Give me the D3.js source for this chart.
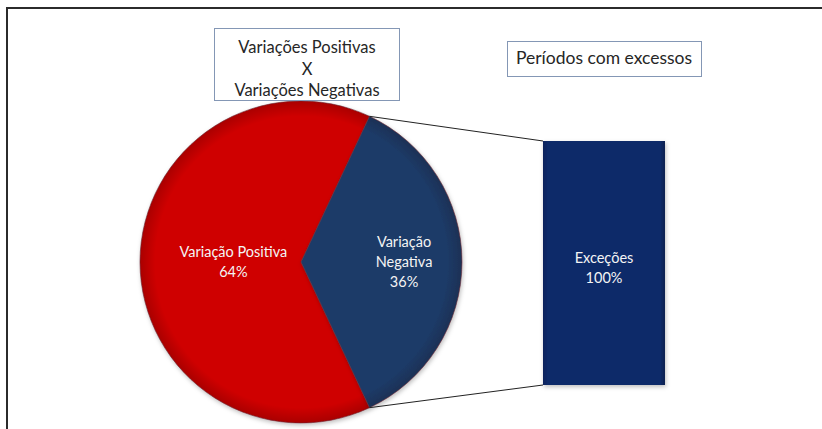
<!DOCTYPE html>
<html lang="pt">
<head>
    <meta charset="UTF-8">
    <title>Variações Positivas X Variações Negativas</title>
    <script src="https://d3js.org/d3.v7.min.js"></script>
    <style>
        body {
            margin: 0;
            background: #ffffff;
        }
        svg text {
            font-family: Lato, "Open Sans", sans-serif;
        }
        .box-text {
            fill: #262626;
            font-size: 16.5px;
        }
        .slice-label {
            fill: #f4f4f4;
            font-size: 14.5px;
        }
    </style>
</head>
<body>
    <script>

        // data
        var categories = ["Variação Positiva", "Variação Negativa"];
        var values = [64, 36];
        var barCategories = ["Exceções"];
        var barValues = [100];
        var titleLines = ["Variações Positivas", "X", "Variações Negativas"];
        var subTitle = "Períodos com excessos";

        var w = 822;
        var h = 429;

        var svg = d3.select("body")
            .append("svg")
            .attr("width", w)
            .attr("height", h);

        var defs = svg.append("defs");

        // soft bevel look for the pie slices
        var sliceColors = ["#cf0000", "#1f3b68"];
        sliceColors.forEach(function (c, i) {
            var g = defs.append("radialGradient")
                .attr("id", "slice" + i)
                .attr("gradientUnits", "userSpaceOnUse")
                .attr("cx", 0).attr("cy", 0).attr("r", 162);
            g.append("stop").attr("offset", "0%").attr("stop-color", c);
            g.append("stop").attr("offset", "90%").attr("stop-color", c);
            g.append("stop").attr("offset", "100%").attr("stop-color", d3.color(c).darker(0.6));
        });

        var barGrad = defs.append("linearGradient")
            .attr("id", "barGrad")
            .attr("x1", 0).attr("y1", 0).attr("x2", 1).attr("y2", 0);
        barGrad.append("stop").attr("offset", "0%").attr("stop-color", "#0a235c");
        barGrad.append("stop").attr("offset", "4%").attr("stop-color", "#0c2a69");
        barGrad.append("stop").attr("offset", "96%").attr("stop-color", "#0c2a69");
        barGrad.append("stop").attr("offset", "100%").attr("stop-color", "#08204f");

        var shadow = defs.append("filter").attr("id", "shadow")
            .attr("x", "-10%").attr("y", "-10%").attr("width", "130%").attr("height", "130%");
        shadow.append("feDropShadow")
            .attr("dx", 1).attr("dy", 2).attr("stdDeviation", 2)
            .attr("flood-color", "#000").attr("flood-opacity", 0.25);

        // outer frame
        svg.append("path")
            .attr("d", "M7," + h + " L7,8 L" + w + ",8")
            .attr("fill", "none")
            .attr("stroke", "#2b2b2b")
            .attr("stroke-width", 2);

        // pie
        var cx = 301, cy = 262, radius = 161;
        var total = d3.sum(values);
        var negSpan = values[1] / total * 2 * Math.PI;
        var start = Math.PI / 2 + negSpan / 2;

        var pie = d3.pie()
            .sort(null)
            .startAngle(start)
            .endAngle(start + 2 * Math.PI);

        var arcs = pie(values);

        var arc = d3.arc()
            .innerRadius(0)
            .outerRadius(radius);

        var pieG = svg.append("g")
            .attr("transform", "translate(" + cx + "," + cy + ")");

        pieG.selectAll("path")
            .data(arcs)
            .enter()
            .append("path")
            .attr("d", arc)
            .attr("fill", function (d, i) { return "url(#slice" + i + ")"; })
            .attr("stroke", "#6b2a35")
            .attr("stroke-width", 0.6)
            .attr("filter", "url(#shadow)");

        // labels sit at different depths, as in the original
        var labelDepth = [0.42, 0.64];
        var labelLines = [["Variação Positiva", "64%"], ["Variação", "Negativa", "36%"]];
        arcs.forEach(function (d, i) {
            var la = d3.arc().innerRadius(radius * labelDepth[i]).outerRadius(radius * labelDepth[i]);
            var c = la.centroid(d);
            var lines = labelLines[i].slice();
            lines[lines.length - 1] = d3.format(".0f")(values[i]) + "%";
            var t = pieG.append("text")
                .attr("class", "slice-label")
                .attr("text-anchor", "middle")
                .attr("x", c[0])
                .attr("y", c[1] - (lines.length - 1) * 10 + 5);
            lines.forEach(function (s, k) {
                t.append("tspan")
                    .attr("x", c[0])
                    .attr("dy", k === 0 ? 0 : 20)
                    .text(s);
            });
        });

        // bar of the negative slice
        var xScale = d3.scaleBand()
            .domain(barCategories)
            .range([543, 665]);

        var yScale = d3.scaleLinear()
            .domain([0, 100])
            .range([385, 141]);

        // connector lines from slice edges to bar corners
        var neg = arcs[1];
        var p1 = [cx + radius * Math.sin(neg.startAngle), cy - radius * Math.cos(neg.startAngle)];
        var p2 = [cx + radius * Math.sin(neg.endAngle), cy - radius * Math.cos(neg.endAngle)];
        var barLeft = xScale(barCategories[0]);
        svg.append("line")
            .attr("x1", p1[0]).attr("y1", p1[1])
            .attr("x2", barLeft).attr("y2", yScale(barValues[0]))
            .attr("stroke", "#222").attr("stroke-width", 1);
        svg.append("line")
            .attr("x1", p2[0]).attr("y1", p2[1])
            .attr("x2", barLeft).attr("y2", yScale(0))
            .attr("stroke", "#222").attr("stroke-width", 1);

        svg.selectAll(".bar")
            .data(barValues)
            .enter()
            .append("rect")
            .attr("class", "bar")
            .attr("x", function (d, i) { return xScale(barCategories[i]); })
            .attr("y", function (d) { return yScale(d); })
            .attr("width", xScale.bandwidth())
            .attr("height", function (d) { return yScale(0) - yScale(d); })
            .attr("fill", "url(#barGrad)")
            .attr("filter", "url(#shadow)");

        svg.selectAll(".bar-label")
            .data(barValues)
            .enter()
            .append("text")
            .attr("class", "slice-label")
            .attr("text-anchor", "middle")
            .attr("x", function (d, i) { return xScale(barCategories[i]) + xScale.bandwidth() / 2; })
            .attr("y", 263)
            .each(function (d, i) {
                var x = xScale(barCategories[i]) + xScale.bandwidth() / 2;
                d3.select(this).append("tspan").attr("x", x).attr("dy", 0).text(barCategories[i]);
                d3.select(this).append("tspan").attr("x", x).attr("dy", 20).text(d + "%");
            });

        // title boxes
        svg.append("rect")
            .attr("x", 214.5).attr("y", 28.5)
            .attr("width", 185).attr("height", 72)
            .attr("fill", "#ffffff")
            .attr("stroke", "#8497b5");
        svg.selectAll(".title-line")
            .data(titleLines)
            .enter()
            .append("text")
            .attr("class", "box-text")
            .attr("text-anchor", "middle")
            .attr("x", 307)
            .attr("y", function (d, i) { return 53 + i * 21.5; })
            .text(function (d) { return d; });

        svg.append("rect")
            .attr("x", 507.5).attr("y", 41.5)
            .attr("width", 194).attr("height", 35)
            .attr("fill", "#ffffff")
            .attr("stroke", "#8497b5");
        svg.append("text")
            .attr("class", "box-text")
            .attr("text-anchor", "middle")
            .attr("x", 604)
            .attr("y", 64)
            .style("font-size", "17.5px")
            .text(subTitle);

    </script>
</body>
</html>
